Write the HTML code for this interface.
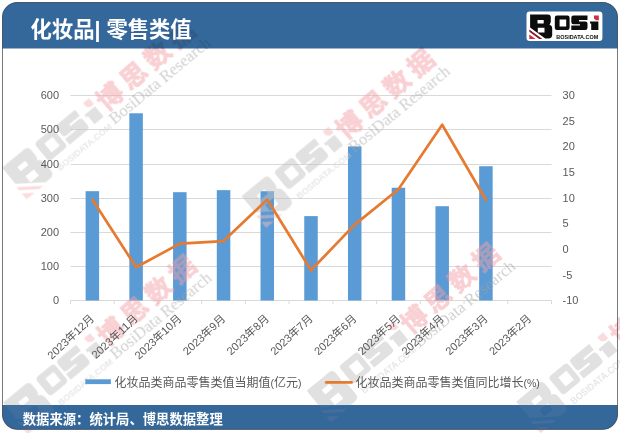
<!DOCTYPE html>
<html lang="zh"><head><meta charset="utf-8"><title>化妆品 零售类值</title>
<style>
html,body{margin:0;padding:0;background:#fff}
body{width:620px;height:433px;overflow:hidden;font-family:"Liberation Sans","Noto Sans CJK SC",sans-serif}
svg{display:block;will-change:transform;font-family:"Liberation Sans","Noto Sans CJK SC",sans-serif}
</style></head><body>
<svg width="620" height="433" viewBox="0 0 620 433">
<defs><g id="wm"><g transform="scale(1.62)"><path fill="#c2c2c2" fill-rule="evenodd" d="M2.5 2.2H20.2Q23.2 2.2 23.2 5.2V9Q23.2 11.6 21.8 12.4Q24.6 13.4 24.6 16.6V22.6Q24.6 26.3 20.8 26.3H17.6L2.5 15.2ZM9.9 7.8H16.1V11.3H9.9ZM10.2 15.5H16.9V20.3H10.2Z"/><path fill="#f6b8bc" d="M1.7 17.2L14.8 26.8H11.6L1.7 19.6Z"/><path fill="#f6b8bc" d="M1.7 22.2L8 26.8H1.7Z"/><path fill="#c2c2c2" fill-rule="evenodd" d="M29.4 3.3H39.8Q42 3.3 42 5.5V15.5Q42 17.7 39.8 17.7H29.4Q27.2 17.7 27.2 15.5V5.5Q27.2 3.3 29.4 3.3ZM32 7.2V14.4H38.6V7.2Z"/><path fill="#c2c2c2" d="M45.9 3.3H59.9V7.9H51.4V9.2H57.7Q59.9 9.2 59.9 11.4V15.5Q59.9 17.7 57.7 17.7H43.7V13.3H52.4V12H45.9Q43.7 12 43.7 9.8V5.5Q43.7 3.3 45.9 3.3Z"/><path fill="#c2c2c2" d="M62.4 9.4H70.8V17.7H63.6V11.4H62.4Z"/><path fill="#f6b8bc" d="M66.4 3.3H71.2V8.1H68.4L66.4 6.4Z"/><text x="28.7" y="26.4" font-size="6" font-weight="bold" textLength="42" lengthAdjust="spacingAndGlyphs" fill="#cfcfcf">BOSIDATA.COM</text></g><g fill="#f3a0a6" stroke="#f3a0a6" stroke-width="0.7" transform="rotate(-1.5 120 17)"><text x="119.5" y="26.88" font-size="26" font-weight="bold" letter-spacing="5.5" font-family="'Liberation Sans','Noto Sans CJK SC',sans-serif">博思数据</text></g><text x="118" y="42.3" font-family="Liberation Serif, serif" font-size="16.5" textLength="126" lengthAdjust="spacingAndGlyphs" fill="#a2a2a2">BosiData Research</text></g></defs>
<defs><g id="wmall">
<use href="#wm" transform="translate(-3.2 167.5) rotate(-39.5)"/>
<use href="#wm" transform="translate(236.3 196) rotate(-39.5)"/>
<use href="#wm" transform="translate(-2.2 402.5) rotate(-39.5)"/>
<use href="#wm" transform="translate(301.3 390.5) rotate(-39.5)"/>
<use href="#wm" transform="translate(510.8 401.5) rotate(-39.5)"/>
</g><clipPath id="fc"><rect x="2" y="405" width="616" height="24.7"/></clipPath><clipPath id="hc"><rect x="2" y="2" width="616" height="46.4"/></clipPath></defs>
<line x1="70.5" x2="551.5" y1="95.5" y2="95.5" stroke="#d9d9d9" stroke-width="1"/>
<line x1="70.5" x2="551.5" y1="129.5" y2="129.5" stroke="#d9d9d9" stroke-width="1"/>
<line x1="70.5" x2="551.5" y1="164.5" y2="164.5" stroke="#d9d9d9" stroke-width="1"/>
<line x1="70.5" x2="551.5" y1="198.5" y2="198.5" stroke="#d9d9d9" stroke-width="1"/>
<line x1="70.5" x2="551.5" y1="232.5" y2="232.5" stroke="#d9d9d9" stroke-width="1"/>
<line x1="70.5" x2="551.5" y1="266.5" y2="266.5" stroke="#d9d9d9" stroke-width="1"/>
<line x1="70.5" x2="551.5" y1="300.5" y2="300.5" stroke="#d9d9d9" stroke-width="1"/>
<path d="M70.5 300.5v3.5M114.23 300.5v3.5M157.95 300.5v3.5M201.68 300.5v3.5M245.41 300.5v3.5M289.14 300.5v3.5M332.86 300.5v3.5M376.59 300.5v3.5M420.32 300.5v3.5M464.05 300.5v3.5M507.77 300.5v3.5M551.5 300.5v3.5" stroke="#d9d9d9" stroke-width="1" fill="none"/>
<rect x="85.61" y="191.17" width="13.5" height="109.33" fill="#5b9bd5"/>
<rect x="129.34" y="113.27" width="13.5" height="187.23" fill="#5b9bd5"/>
<rect x="173.07" y="192.19" width="13.5" height="108.31" fill="#5b9bd5"/>
<rect x="216.8" y="190.14" width="13.5" height="110.36" fill="#5b9bd5"/>
<rect x="260.52" y="191.17" width="13.5" height="109.33" fill="#5b9bd5"/>
<rect x="304.25" y="216.11" width="13.5" height="84.39" fill="#5b9bd5"/>
<rect x="347.98" y="146.41" width="13.5" height="154.09" fill="#5b9bd5"/>
<rect x="391.7" y="187.75" width="13.5" height="112.75" fill="#5b9bd5"/>
<rect x="435.43" y="206.2" width="13.5" height="94.3" fill="#5b9bd5"/>
<rect x="479.16" y="166.22" width="13.5" height="134.28" fill="#5b9bd5"/>
<use href="#wmall" opacity="0.5"/>
<path d="M2 404.9V414.2A15.5 15.5 0 0 0 17.5 429.7H602.5A15.5 15.5 0 0 0 618 414.2V404.9Z" fill="#34689b"/>
<g clip-path="url(#fc)"><use href="#wmall" opacity="0.07"/></g>
<polyline points="92.36,199.54 136.09,267.19 179.82,243.61 223.55,241.05 267.27,199.54 311,270.26 354.73,224.65 398.45,189.29 442.18,124.71 485.91,200.05" fill="none" stroke="#e67a30" stroke-width="2.7" stroke-linejoin="round" stroke-linecap="round"/>
<g font-size="11" fill="#595959" text-anchor="end">
<text x="59" y="99.2">600</text>
<text x="59" y="133.2">500</text>
<text x="59" y="168.2">400</text>
<text x="59" y="202.2">300</text>
<text x="59" y="236.2">200</text>
<text x="59" y="270.2">100</text>
<text x="59" y="304.2">0</text>
</g>
<g font-size="11" fill="#595959">
<text x="562.6" y="99.2">30</text>
<text x="562.6" y="124.83">25</text>
<text x="562.6" y="150.45">20</text>
<text x="562.6" y="176.07">15</text>
<text x="562.6" y="201.7">10</text>
<text x="562.6" y="227.32">5</text>
<text x="562.6" y="252.95">0</text>
<text x="562.6" y="278.57">-5</text>
<text x="562.6" y="304.2">-10</text>
</g>
<g fill="#595959" transform="translate(94.96 319.5) rotate(-43)"><text x="0" y="0" font-size="11.1" text-anchor="end">2023年12月</text></g>
<g fill="#595959" transform="translate(138.69 319.5) rotate(-43)"><text x="0" y="0" font-size="11.1" text-anchor="end">2023年11月</text></g>
<g fill="#595959" transform="translate(182.42 319.5) rotate(-43)"><text x="0" y="0" font-size="11.1" text-anchor="end">2023年10月</text></g>
<g fill="#595959" transform="translate(226.15 319.5) rotate(-43)"><text x="0" y="0" font-size="11.1" text-anchor="end">2023年9月</text></g>
<g fill="#595959" transform="translate(269.87 319.5) rotate(-43)"><text x="0" y="0" font-size="11.1" text-anchor="end">2023年8月</text></g>
<g fill="#595959" transform="translate(313.6 319.5) rotate(-43)"><text x="0" y="0" font-size="11.1" text-anchor="end">2023年7月</text></g>
<g fill="#595959" transform="translate(357.33 319.5) rotate(-43)"><text x="0" y="0" font-size="11.1" text-anchor="end">2023年6月</text></g>
<g fill="#595959" transform="translate(401.05 319.5) rotate(-43)"><text x="0" y="0" font-size="11.1" text-anchor="end">2023年5月</text></g>
<g fill="#595959" transform="translate(444.78 319.5) rotate(-43)"><text x="0" y="0" font-size="11.1" text-anchor="end">2023年4月</text></g>
<g fill="#595959" transform="translate(488.51 319.5) rotate(-43)"><text x="0" y="0" font-size="11.1" text-anchor="end">2023年3月</text></g>
<g fill="#595959" transform="translate(532.24 319.5) rotate(-43)"><text x="0" y="0" font-size="11.1" text-anchor="end">2023年2月</text></g>
<rect x="85.3" y="379.3" width="25.6" height="4.8" fill="#5b9bd5"/>
<g fill="#595959"><text x="114.4" y="386.6" font-size="12">化妆品类商品零售类值当期值</text><text x="270.4" y="386.6" font-size="10.5">(</text><text x="273.9" y="386.6" font-size="12">亿元</text><text x="297.9" y="386.6" font-size="10.5">)</text></g>
<line x1="326.2" x2="351.6" y1="382.4" y2="382.4" stroke="#e67a30" stroke-width="2.7" stroke-linecap="round"/>
<g fill="#595959"><text x="355.5" y="386.6" font-size="12">化妆品类商品零售类值同比增长</text><text x="523.5" y="386.6" font-size="10.5">(%)</text></g>
<g fill="#fff"><text x="22.8" y="424.1" font-size="13.33" font-weight="bold">数据来源：统计局、博思数据整理</text></g>
<path d="M2 48.4V17.5A15.5 15.5 0 0 1 17.5 2H602.5A15.5 15.5 0 0 1 618 17.5V48.4Z" fill="#34689b"/>
<g clip-path="url(#hc)" style="mix-blend-mode:multiply"><use href="#wmall" opacity="0.35"/></g>
<rect x="2.5" y="2.5" width="615" height="426.7" rx="15" fill="none" stroke="#4c5155" stroke-opacity="0.76"/>
<g fill="#fff"><text x="30.5" y="37.2" font-size="21.33" font-weight="bold">化妆品</text><text x="94.49" y="37.2" font-size="21.33" font-weight="bold">| </text><text x="106.38" y="37.2" font-size="21.33" font-weight="bold">零售类值</text></g>
<rect x="526.5" y="11.45" width="75.9" height="29.55" rx="3.2" fill="#fff"/><g transform="translate(527.6 12.2)"><path fill="#0c0c0c" fill-rule="evenodd" d="M2.5 2.2H20.2Q23.2 2.2 23.2 5.2V9Q23.2 11.6 21.8 12.4Q24.6 13.4 24.6 16.6V22.6Q24.6 26.3 20.8 26.3H17.6L2.5 15.2ZM9.9 7.8H16.1V11.3H9.9ZM10.2 15.5H16.9V20.3H10.2Z"/><path fill="#8e1626" d="M1.7 17.2L14.8 26.8H11.6L1.7 19.6Z"/><path fill="#d22a40" d="M1.7 22.2L8 26.8H1.7Z"/><path fill="#0c0c0c" fill-rule="evenodd" d="M29.4 3.3H39.8Q42 3.3 42 5.5V15.5Q42 17.7 39.8 17.7H29.4Q27.2 17.7 27.2 15.5V5.5Q27.2 3.3 29.4 3.3ZM32 7.2V14.4H38.6V7.2Z"/><path fill="#0c0c0c" d="M45.9 3.3H59.9V7.9H51.4V9.2H57.7Q59.9 9.2 59.9 11.4V15.5Q59.9 17.7 57.7 17.7H43.7V13.3H52.4V12H45.9Q43.7 12 43.7 9.8V5.5Q43.7 3.3 45.9 3.3Z"/><path fill="#0c0c0c" d="M62.4 9.4H70.8V17.7H63.6V11.4H62.4Z"/><path fill="#d22a40" d="M66.4 3.3H71.2V8.1H68.4L66.4 6.4Z"/><text x="28.7" y="26.4" font-size="6" font-weight="bold" textLength="42" lengthAdjust="spacingAndGlyphs" fill="#0c0c0c">BOSIDATA.COM</text></g>
</svg>
</body></html>
